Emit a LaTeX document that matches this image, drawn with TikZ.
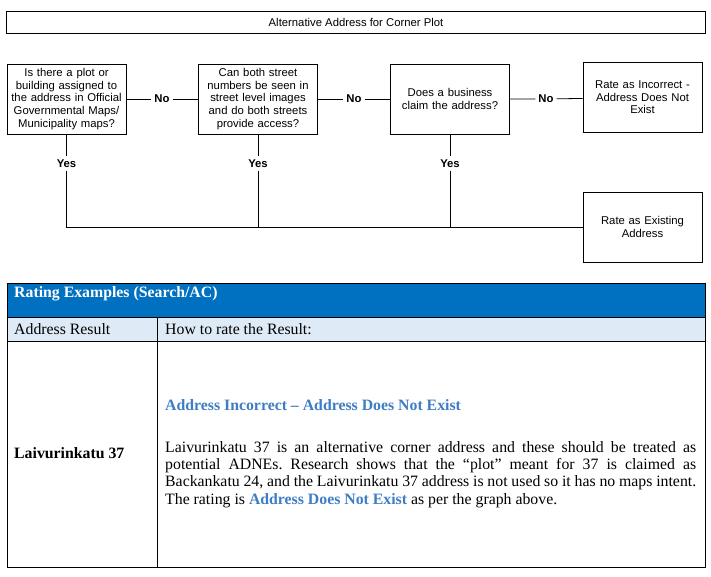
\documentclass[tikz,border=0pt]{standalone}
\usepackage{fontspec}
\setmainfont{Liberation Serif}
\setsansfont{Liberation Sans}
\usepackage{tikz}
\usetikzlibrary{positioning}
\definecolor{headblue}{RGB}{0,112,192}
\definecolor{rowblue}{RGB}{222,234,246}
\definecolor{ratingblue}{RGB}{62,125,196}

\begin{document}
\frenchspacing
\begin{tikzpicture}
[ x=1pt,y=-1pt,
		question/.style={rectangle,draw,line width=0.8pt,minimum width=119pt,minimum height=70pt,text width=114pt,align=center,inner sep=2pt,font=\sffamily\fontsize{11.3}{12.6}\selectfont},
		answer/.style={inner sep=3pt,font=\sffamily\bfseries\fontsize{11.3}{12.6}\selectfont},
		link/.style={line width=0.8pt},
		cell/.style={draw,line width=0.8pt},
		tabtext/.style={inner sep=0pt,font=\fontsize{15.8}{17.3}\selectfont}]

	\useasboundingbox (0,0) rectangle (711,576);

	\node[draw,line width=0.8pt,minimum width=699pt,minimum height=22pt,font=\sffamily\fontsize{11.3}{12.6}\selectfont] (title) at (356,22) {Alternative Address for Corner Plot};

	\node[question] (plot question) at (66.5,99) {Is there a plot or\\ building assigned to\\ the address in Official\\ Governmental Maps/\\ Municipality maps?};
	\node[question] (street question) at (258,99) {Can both street\\ numbers be seen in\\ street level images\\ and do both streets\\ provide access?};
	\node[question] (business question) at (450,99) {Does a business\\ claim the address?};
	\node[question] (incorrect rating) at (642.5,97.5) {Rate as Incorrect -\\ Address Does Not\\ Exist};
	\node[question] (existing rating) at (642.5,227) {Rate as Existing\\ Address};

	\node[answer] (first no) at (162,99) {No};
	\node[answer] (second no) at (354,99) {No};
	\node[answer] (third no) at (546,99) {No};
	\node[answer] (first yes) [below=29pt of plot question.south,anchor=center] {Yes};
	\node[answer] (second yes) [below=29pt of street question.south,anchor=center] {Yes};
	\node[answer] (third yes) [below=29pt of business question.south,anchor=center] {Yes};

	\coordinate (first join) at (first yes |- existing rating.west);
	\coordinate (second join) at (second yes |- existing rating.west);
	\coordinate (third join) at (third yes |- existing rating.west);

	\draw[link] (plot question) -- (first no) -- (street question);
	\draw[link] (street question) -- (second no) -- (business question);
	\draw[link] (business question) -- (third no) -- (incorrect rating);
	\draw[link] (plot question) -- (first yes);
	\draw[link] (street question) -- (second yes);
	\draw[link] (business question) -- (third yes);
	\draw[link] (first yes) -- (first join) -- (existing rating.west);
	\draw[link] (second yes) -- (second join);
	\draw[link] (third yes) -- (third join);

	% rating examples table
	\fill[headblue] (7,283) rectangle (705,317);
	\fill[rowblue] (7,317) rectangle (705,341);
	\draw[cell] (7,283) rectangle (705,567);
	\draw[cell] (7,317) -- (705,317);
	\draw[cell] (7,341) -- (705,341);
	\draw[cell] (157,317) -- (157,567);

	\node[tabtext,anchor=west,text=white,font=\bfseries\fontsize{15.8}{17.3}\selectfont] (table head) at (14,294) {Rating Examples (Search/AC)};
	\node[tabtext,anchor=west] (result head) at (14,329) {Address Result};
	\node[tabtext,anchor=west] (rate head) at (165,329) {How to rate the Result:};
	\node[tabtext,anchor=west,font=\bfseries\fontsize{15.8}{17.3}\selectfont] (example address) at (14,453) {Laivurinkatu 37};
	\node[tabtext,anchor=west,text=ratingblue,font=\bfseries\fontsize{15.8}{17.3}\selectfont] (example rating) at (165,405) {Address Incorrect -- Address Does Not Exist};
	\node[tabtext,anchor=north west,text width=531pt,align=justify] (example text) at (165,441) {Laivurinkatu 37 is an alternative corner address and these should be treated as\linebreak potential ADNEs. Research shows that the ``plot'' meant for 37 is claimed as\linebreak Backankatu 24, and the Laivurinkatu 37 address is not used so it has no maps intent.\linebreak The rating is \textcolor{ratingblue}{\bfseries Address Does Not Exist} as per the graph above.};
\end{tikzpicture}
\end{document}
